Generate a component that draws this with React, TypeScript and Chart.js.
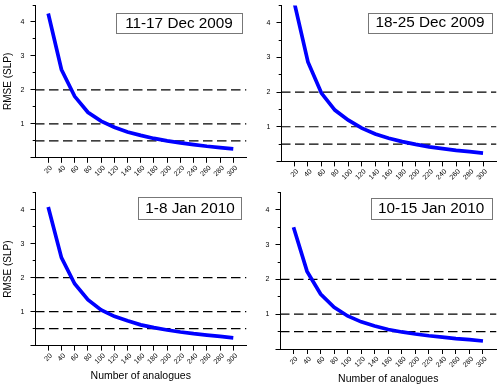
import React, { useEffect, useRef } from "react";
import { Chart, registerables } from "chart.js";

Chart.register(...registerables);

const FONT = "'Liberation Sans', Arial, Helvetica, sans-serif";

// ---- data ----
const analogues = [20, 40, 60, 80, 100, 120, 140, 160, 180, 200, 220, 240, 260, 280, 300];
const rmseDec11to17 = [4.25, 2.6, 1.81, 1.34, 1.08, 0.9, 0.76, 0.66, 0.57, 0.5, 0.44, 0.39, 0.34, 0.3, 0.265];
const rmseDec18to25 = [4.56, 2.87, 1.97, 1.48, 1.19, 0.96, 0.79, 0.67, 0.57, 0.49, 0.42, 0.37, 0.32, 0.28, 0.24];
const rmseJan1to8 = [4.08, 2.59, 1.82, 1.35, 1.05, 0.86, 0.73, 0.61, 0.53, 0.46, 0.4, 0.35, 0.31, 0.27, 0.23];
const rmseJan10to15 = [3.5, 2.23, 1.58, 1.2, 0.95, 0.78, 0.66, 0.56, 0.49, 0.43, 0.38, 0.34, 0.3, 0.27, 0.23];
const periodLabels = ["11-17 Dec 2009", "18-25 Dec 2009", "1-8 Jan 2010", "10-15 Jan 2010"];
const thresholdLevels = [2, 1, 0.5];
const yMajorTicks = [0, 1, 2, 3, 4];
const yMinorTicks = [0.5, 1.5, 2.5, 3.5, 4.5];
const xRange = [0, 320];
const yRange = [0, 4.5];
const yTitle = "RMSE (SLP)";
const xTitle = "Number of analogues";

const seriesList = [rmseDec11to17, rmseDec18to25, rmseJan1to8, rmseJan10to15];

// ---- layout (page pixels) ----
type Frame = {
  cx: number; cy: number; cw: number; ch: number;
  l: number; t: number; r: number; b: number;
  yw: number; xh: number; showY: boolean; showX: boolean;
  box: [number, number, number, number];
};
const frames: Frame[] = [
  { cx: 0, cy: 0, cw: 250, ch: 186, l: 35, t: 5, r: 246.5, b: 157.8, yw: 32.5, xh: 24, showY: true, showX: false, box: [116, 13, 242, 33] },
  { cx: 250, cy: 0, cw: 250, ch: 186, l: 281, t: 5.4, r: 496.5, b: 161.4, yw: 25, xh: 20, showY: false, showX: false, box: [368, 12.7, 492, 32.3] },
  { cx: 0, cy: 180, cw: 250, ch: 210, l: 35, t: 192.7, r: 246.5, b: 345.6, yw: 33.2, xh: 37.1, showY: true, showX: true, box: [138.3, 196.7, 241.7, 219] },
  { cx: 250, cy: 180, cw: 250, ch: 210, l: 280, t: 192.4, r: 496.5, b: 349, yw: 25, xh: 36.3, showY: false, showX: true, box: [370.7, 197.7, 491.7, 219] },
];

function zeroPad(s: any) {
  s.paddingTop = 0;
  s.paddingBottom = 0;
  s.paddingLeft = 0;
  s.paddingRight = 0;
}

function makeConfig(i: number): any {
  const f = frames[i];
  const values = seriesList[i];
  const label = periodLabels[i];
  const boxPlugin = {
    id: "periodBox" + i,
    afterDraw(chart: any) {
      const ctx = chart.ctx;
      const [x1, y1, x2, y2] = f.box;
      const bx = x1 - f.cx, by = y1 - f.cy, bw = x2 - x1, bh = y2 - y1;
      ctx.save();
      ctx.fillStyle = "#ffffff";
      ctx.fillRect(bx, by, bw, bh);
      ctx.strokeStyle = "#777777";
      ctx.lineWidth = 1;
      ctx.strokeRect(Math.round(bx) + 0.5, Math.round(by) + 0.5, Math.round(bw), Math.round(bh));
      ctx.fillStyle = "#000000";
      ctx.font = "15.3px " + FONT;
      ctx.textAlign = "center";
      ctx.textBaseline = "middle";
      ctx.fillText(label, bx + bw / 2, by + bh / 2 + 0.5);
      ctx.restore();
    },
  };
  const datasets: any[] = [
    {
      label,
      data: analogues.map((x, k) => ({ x, y: values[k] })),
      borderColor: "#0000ff",
      borderWidth: 3.7,
      pointRadius: 0,
      tension: 0,
      order: 0,
    },
    ...thresholdLevels.map((lvl) => ({
      label: "level " + lvl,
      data: [{ x: xRange[0], y: lvl }, { x: xRange[1], y: lvl }],
      borderColor: "#000000",
      borderWidth: 1.2,
      borderDash: [9.5, 4.5],
      pointRadius: 0,
      order: 1,
    })),
  ];
  return {
    type: "line",
    data: { datasets },
    plugins: [boxPlugin],
    options: {
      animation: false,
      responsive: false,
      maintainAspectRatio: false,
      devicePixelRatio: 1,
      events: [],
      layout: {
        padding: {
          left: f.l - f.cx - f.yw,
          top: f.t - f.cy,
          right: f.cx + f.cw - f.r,
          bottom: f.cy + f.ch - f.b - f.xh,
        },
      },
      plugins: { legend: { display: false }, tooltip: { enabled: false }, title: { display: false } },
      scales: {
        x: {
          type: "linear",
          min: xRange[0],
          max: xRange[1],
          afterBuildTicks: (s: any) => {
            s.ticks = analogues.map((v) => ({ value: v }));
          },
          afterFit: (s: any) => {
            s.height = f.xh;
            zeroPad(s);
          },
          ticks: {
            autoSkip: false,
            minRotation: 45,
            maxRotation: 45,
            padding: 1,
            labelOffset: 3,
            color: "#000",
            font: { size: 7, family: FONT },
            callback: (v: any) => String(v),
          },
          grid: { drawOnChartArea: false, tickLength: 5, color: "#000", tickWidth: 1 },
          border: { display: true, color: "#000", width: 1 },
          title: { display: f.showX, text: xTitle, color: "#000", padding: 0, font: { size: 10.5, family: FONT } },
        },
        y: {
          type: "linear",
          position: "left",
          weight: 1,
          min: yRange[0],
          max: yRange[1],
          afterBuildTicks: (s: any) => {
            s.ticks = yMajorTicks.map((v) => ({ value: v }));
          },
          afterFit: (s: any) => {
            s.width = f.yw;
            zeroPad(s);
          },
          ticks: {
            padding: 6,
            color: "#000",
            font: { size: 7, family: FONT },
            callback: (v: any) => (v === 0 ? "" : String(v)),
          },
          grid: { drawOnChartArea: false, tickLength: 4.5, color: "#000", tickWidth: 1 },
          border: { display: true, color: "#000", width: 1 },
          title: { display: f.showY, text: yTitle, color: "#000", padding: 0, font: { size: 10, family: FONT } },
        },
        yMinor: {
          type: "linear",
          position: "left",
          weight: 0,
          min: yRange[0],
          max: yRange[1],
          afterBuildTicks: (s: any) => {
            s.ticks = yMinorTicks.map((v) => ({ value: v }));
          },
          afterFit: (s: any) => {
            s.width = 0;
            zeroPad(s);
          },
          ticks: { display: false },
          grid: { drawOnChartArea: false, tickLength: 2.3, color: "#000", tickWidth: 1 },
          border: { display: false },
        },
      },
    },
  };
}

function Panel({ index }: { index: number }) {
  const ref = useRef<HTMLCanvasElement | null>(null);
  const f = frames[index];
  useEffect(() => {
    if (!ref.current) return;
    const chart = new Chart(ref.current, makeConfig(index));
    return () => chart.destroy();
  }, [index]);
  return (
    <canvas
      ref={ref}
      width={f.cw}
      height={f.ch}
      style={{ position: "absolute", left: f.cx, top: f.cy, width: f.cw, height: f.ch }}
    />
  );
}

export default function App() {
  return (
    <div style={{ position: "fixed", left: 0, top: 0, width: 500, height: 390, background: "#fff", overflow: "hidden" }}>
      {seriesList.map((_, i) => (
        <Panel key={i} index={i} />
      ))}
    </div>
  );
}
